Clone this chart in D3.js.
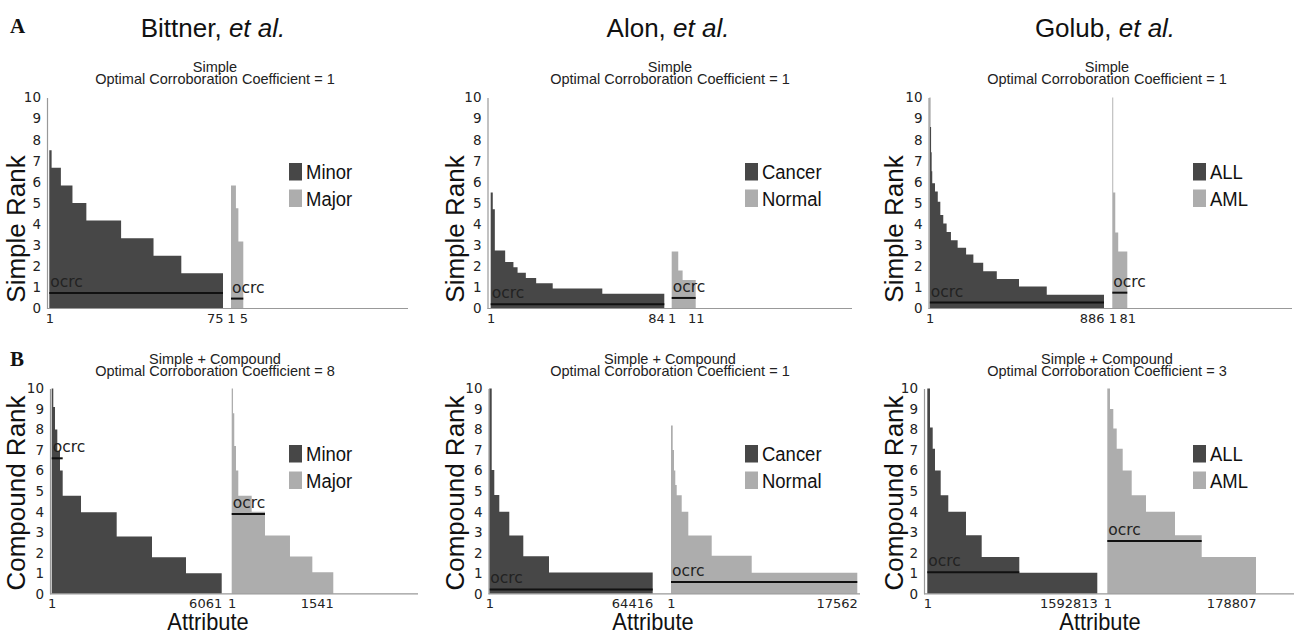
<!DOCTYPE html>
<meta charset="utf-8">

<!-- load d3 -->
<script src="https://d3js.org/d3.v7.min.js"></script>

<style>
  body { margin: 0; background: #fff; }
</style>

<!-- svg element where the figure will live -->
<svg id="my_chart"></svg>

<script>

// column headings, class names and panel titles
const authors = ["Bittner", "Alon", "Golub"];
const class_names = [["Minor", "Major"], ["Cancer", "Normal"], ["ALL", "AML"]];
const row_titles = ["Simple", "Simple + Compound"];
const row_letters = ["A", "B"];
const rank_labels = ["Simple Rank", "Compound Rank"];
const coefficients = [[1, 1, 1], [8, 1, 3]];
const rank_ticks = d3.range(0, 11);

// each step: [number of attributes, rank]
const bittner_simple_minor = [[1, 7.5], [4, 6.67], [5, 5.83], [6, 5.0], [15, 4.17], [14, 3.33], [12, 2.5], [18, 1.67]];
const bittner_simple_major = [[2, 5.83], [1, 4.75], [2, 3.17]];
const alon_simple_cancer = [[1, 5.5], [1, 4.7], [5, 2.75], [4, 2.2], [2, 1.95], [4, 1.7], [5, 1.45], [8, 1.2], [24, 0.95], [30, 0.7]];
const alon_simple_normal = [[3, 2.7], [2, 1.8], [6, 1.35]];
const golub_simple_all = [[3, 10], [4, 8.6], [3, 7.4], [3, 6.5], [14, 5.94], [14, 5.54], [13, 5.06], [15, 4.43], [17, 4.03], [22, 3.63], [34, 3.23], [43, 2.88], [37, 2.56], [50, 2.17], [69, 1.77], [113, 1.4], [141, 1.04], [291, 0.65]];
const golub_simple_aml = [[5, 10], [11, 5.5], [16, 3.6], [49, 2.7]];
const bittner_compound_minor = [[57, 10], [61, 9.1], [82, 8.0], [96, 6.95], [96, 6.0], [653, 4.78], [1272, 3.97], [1259, 2.79], [1212, 1.78], [1273, 1.0]];
const bittner_compound_major = [[20, 10], [19, 8.8], [26, 7.2], [35, 6.0], [203, 4.78], [202, 4.0], [379, 2.84], [339, 1.82], [318, 1.05]];
const alon_compound_cancer = [[946, 10], [1025, 6.03], [1971, 4.81], [3942, 4.0], [5519, 2.84], [10131, 1.83], [40882, 1.04]];
const alon_compound_normal = [[160, 8.2], [123, 7.0], [122, 6.0], [132, 5.3], [472, 4.8], [622, 4.0], [2206, 2.84], [3771, 1.85], [9954, 1.02]];
const golub_compound_all = [[25300, 10], [25300, 8.1], [21500, 7.07], [53400, 6.0], [71200, 4.8], [165800, 4.0], [147100, 2.85], [352300, 1.79], [730913, 1.02]];
const golub_compound_aml = [[3250, 10], [3970, 9.0], [4080, 8.05], [7220, 7.07], [10820, 6.0], [17200, 4.8], [34870, 4.0], [32110, 2.85], [65287, 1.79]];

// optimal corroboration rank cut-off: [rank, attributes covered]
const ocrc_simple = [[[0.74, 75], [0.47, 5]], [[0.2, 84], [0.5, 11]], [[0.28, 886], [0.75, 81]]];
const ocrc_compound = [[[6.6, 392], [3.89, 505]], [[0.21, 64416], [0.57, 17562]], [[1.05, 861900], [2.57, 113520]]];

const series = [
  [[bittner_simple_minor, bittner_simple_major], [alon_simple_cancer, alon_simple_normal], [golub_simple_all, golub_simple_aml]],
  [[bittner_compound_minor, bittner_compound_major], [alon_compound_cancer, alon_compound_normal], [golub_compound_all, golub_compound_aml]]
];
const ocrc = [ocrc_simple, ocrc_compound];

// layout (pixels)
const width = 1294, height = 634;
const colors = ["#474747", "#adadad"];
const rows = [
  { y0: 308.5, y10: 97.5, sub1: 72, sub2: 84, legendY: 163, letterY: 33, labelY: 229 },
  { y0: 593.8, y10: 388.5, sub1: 363.5, sub2: 375.5, legendY: 445, letterY: 366, labelY: 493 }
];
const panels = [
  [ { axisX: 47, axisEnd: 408, ranges: [[49.3, 223], [231, 243.3]], legendX: 289 },
    { axisX: 487.5, axisEnd: 852, ranges: [[490.7, 664.3], [671.7, 695.7]], legendX: 745 },
    { axisX: 928.5, axisEnd: 1292, ranges: [[929.7, 1104], [1112.3, 1127.3]], legendX: 1193 } ],
  [ { axisX: 50, axisEnd: 418, ranges: [[51.7, 221.7], [231.7, 333.3]], legendX: 289 },
    { axisX: 488.5, axisEnd: 860, ranges: [[489.3, 652.7], [671, 857.3]], legendX: 745 },
    { axisX: 924, axisEnd: 1294, ranges: [[927.3, 1097.3], [1107.3, 1256]], legendX: 1193 } ]
];
const col_centers = [213, 668, 1105];
const label_x = [24.5, 464, 903];
const attribute_x = [208, 653, 1100];

let svg = d3.select("#my_chart")
    .attr("width", width)
    .attr("height", height)
    .style("font-family", "'Liberation Sans', Arial, sans-serif");

// author headings
authors.forEach(function(name, c) {
  let t = svg.append("text")
      .attr("x", col_centers[c])
      .attr("y", 37)
      .attr("text-anchor", "middle")
      .style("font-size", "26px")
      .attr("fill", "#111");
  t.append("tspan").text(name + ", ");
  t.append("tspan").style("font-style", "italic").text("et al.");
});

rows.forEach(function(row, r) {

  // panel letter
  svg.append("text")
      .attr("x", 10)
      .attr("y", row.letterY)
      .style("font-family", "'Liberation Serif', 'Times New Roman', serif")
      .style("font-weight", "bold")
      .style("font-size", "21px")
      .attr("fill", "#111")
      .text(row_letters[r]);

  let y = d3.scaleLinear().domain([0, 10]).range([row.y0, row.y10]);

  panels[r].forEach(function(p, c) {
    let g = svg.append("g");

    // titles
    g.append("text")
        .attr("x", col_centers[c] + 2).attr("y", row.sub1)
        .attr("text-anchor", "middle")
        .style("font-size", "14.5px").attr("fill", "#222")
        .text(row_titles[r]);
    g.append("text")
        .attr("x", col_centers[c] + 2).attr("y", row.sub2)
        .attr("text-anchor", "middle")
        .style("font-size", "14.5px").attr("fill", "#222")
        .text("Optimal Corroboration Coefficient = " + coefficients[r][c]);

    // y label
    g.append("text")
        .attr("transform", "translate(" + label_x[c] + "," + row.labelY + ") rotate(-90)")
        .attr("text-anchor", "middle")
        .style("font-size", "26px").attr("fill", "#111")
        .text(rank_labels[r]);

    // the two step series
    series[r][c].forEach(function(steps, s) {
      let total = d3.sum(steps, d => d[0]);
      let x = d3.scaleLinear().domain([0, total]).range(p.ranges[s]);

      let pts = [], acc = 0;
      steps.forEach(function(d) { pts.push([acc, d[1]]); acc += d[0]; });
      pts.push([acc, steps[steps.length - 1][1]]);

      g.append("path")
          .datum(pts)
          .attr("fill", colors[s])
          .attr("d", d3.area()
              .curve(d3.curveStepAfter)
              .x(d => x(d[0]))
              .y0(y(0))
              .y1(d => y(d[1])));

      // ocrc line and label
      let cut = ocrc[r][c][s];
      g.append("line")
          .attr("x1", x(0)).attr("x2", x(cut[1]))
          .attr("y1", y(cut[0])).attr("y2", y(cut[0]))
          .attr("stroke", "#111").attr("stroke-width", 2);
      g.append("text")
          .attr("x", x(0) + 1).attr("y", y(cut[0]) - 6)
          .style("font-family", "'DejaVu Sans', sans-serif")
          .style("font-size", "15.5px").attr("fill", "#222")
          .text("ocrc");

      // first and last attribute index
      let ax = g.append("g")
          .attr("transform", "translate(0," + row.y0 + ")")
          .call(d3.axisBottom(x)
              .tickValues([0, total])
              .tickSize(0)
              .tickPadding(5)
              .tickFormat(d => d === 0 ? "1" : d));
      ax.select(".domain").remove();
      ax.selectAll("text")
          .style("font-family", "'DejaVu Sans', sans-serif")
          .style("font-size", "13px")
          .attr("fill", "#222")
          .attr("text-anchor", (d, i) => i === 0 ? "middle" : (r === 0 && s === 1 ? "middle" : "end"));
    });

    // axes
    g.append("line")
        .attr("x1", p.axisX).attr("x2", p.axisEnd)
        .attr("y1", row.y0).attr("y2", row.y0)
        .attr("stroke", "#999").attr("stroke-width", 1.2);
    let ya = g.append("g")
        .attr("transform", "translate(" + p.axisX + ",0)")
        .call(d3.axisLeft(y).tickValues(rank_ticks).tickSize(0).tickSizeOuter(0).tickPadding(6));
    ya.select(".domain").attr("stroke", "#999").attr("stroke-width", 1.2);
    ya.selectAll("text")
        .style("font-family", "'DejaVu Sans', sans-serif")
        .style("font-size", "13.5px")
        .attr("fill", "#222");

    // legend
    class_names[c].forEach(function(name, s) {
      let ly = row.legendY + s * 26.5;
      g.append("rect")
          .attr("x", p.legendX).attr("y", ly)
          .attr("width", 13).attr("height", 17.5)
          .attr("fill", colors[s]);
      g.append("text")
          .attr("transform", "translate(" + (p.legendX + 17) + "," + (ly + 16) + ") scale(0.88,1)")
          .style("font-family", "'Liberation Sans Narrow', 'Arial Narrow', sans-serif")
          .style("font-size", "21px").attr("fill", "#111")
          .text(name);
    });

    // x label on the lower row
    if (r === 1) {
      g.append("text")
          .attr("transform", "translate(" + attribute_x[c] + ",630) scale(0.95,1)")
          .attr("text-anchor", "middle")
          .style("font-family", "'Liberation Sans Narrow', 'Arial Narrow', sans-serif")
          .style("font-size", "23px").attr("fill", "#111")
          .text("Attribute");
    }
  });
});

</script>
